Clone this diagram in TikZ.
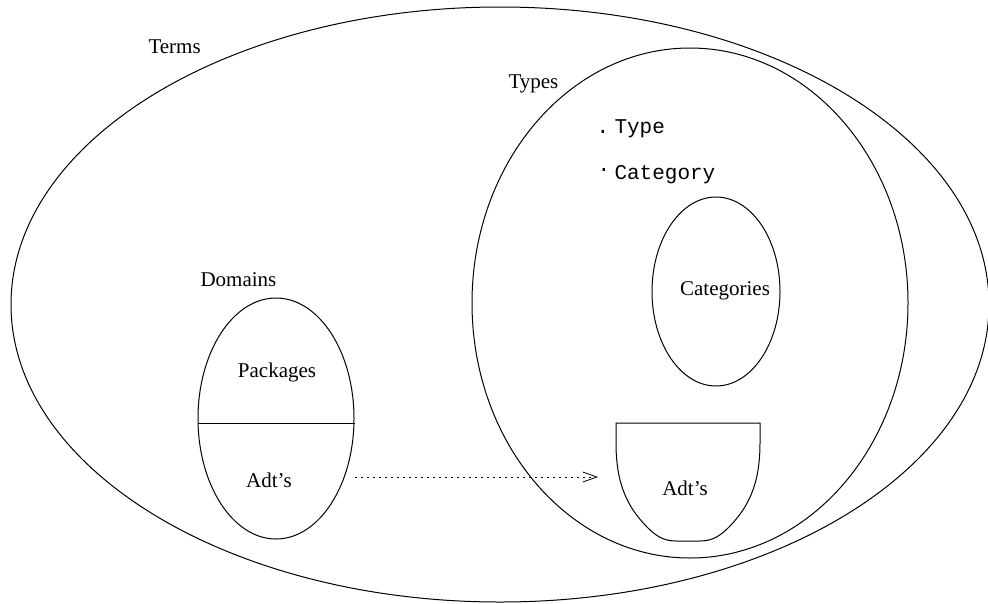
\documentclass[tikz,border=0pt]{standalone}
\usepackage{fontspec}
\setmainfont{Liberation Serif}
\setmonofont{Liberation Mono}
\usetikzlibrary{arrows.meta,shapes.geometric}
\begin{document}
\begin{tikzpicture}[x=1pt,y=-1pt,line width=1pt,
  region/.style={draw,ellipse,inner sep=0pt},
  lbl/.style={inner sep=0pt,font=\fontsize{21}{25}\selectfont},
  mono/.style={inner sep=0pt,font=\fontsize{21}{25}\selectfont\ttfamily},
  link/.style={dash pattern=on 2pt off 4pt,line width=0.8pt,
    -{Straight Barb[length=14pt,width=10pt,line width=0.8pt]}}]
\useasboundingbox (0,0) rectangle (988,603);
% outer ellipse
\node[region,minimum width=978pt,minimum height=595pt] (terms) at (500,304.5) {};
% types ellipse
\node[region,minimum width=436pt,minimum height=510pt] (types) at (690,303) {};
% categories
\node[region,minimum width=128pt,minimum height=189pt] (cats) at (716,291.5) {};
% domains
\node[region,minimum width=156pt,minimum height=241pt] (dom) at (276,418.5) {};
\draw (dom.west |- 0,423) coordinate (dl) -- (dom.east |- 0,423) coordinate (dr);
% Adt's cup shape
\draw (616,423) -- (760,423) -- (760,443)
  .. controls (760,485) and (748,508) .. (728,528)
  .. controls (718,538) and (710,541) .. (700,541)
  -- (676,541)
  .. controls (666,541) and (658,538) .. (648,528)
  .. controls (628,508) and (616,485) .. (616,443) -- cycle;
% labels
\node[lbl,anchor=base west] (tTerms) at (148,53) {Terms};
\node[lbl,anchor=base west] (tTypes) at (508,88) {Types};
\node[lbl,anchor=base west] (tDom) at (200,286) {Domains};
\node[lbl,anchor=base] (tPack) at (277,377) {Packages};
\node[lbl,anchor=base] (tAdt1) at (269,487) {Adt’s};
\node[lbl,anchor=base] (tAdt2) at (685,495) {Adt’s};
\node[lbl,anchor=base] (tCat) at (725,295) {Categories};
\node[mono,anchor=base] (d1) at (603,133) {.};
\node[mono,anchor=base west] (tType) at (614,133) {Type};
\node[mono,anchor=base] (d2) at (604,171) {.};
\node[mono,anchor=base west] (tCategory) at (614,179) {Category};
% arrow
\coordinate (as) at (355,477);
\coordinate (ae) at (598,477);
\draw[link] (as) -- (ae);
\end{tikzpicture}
\end{document}
